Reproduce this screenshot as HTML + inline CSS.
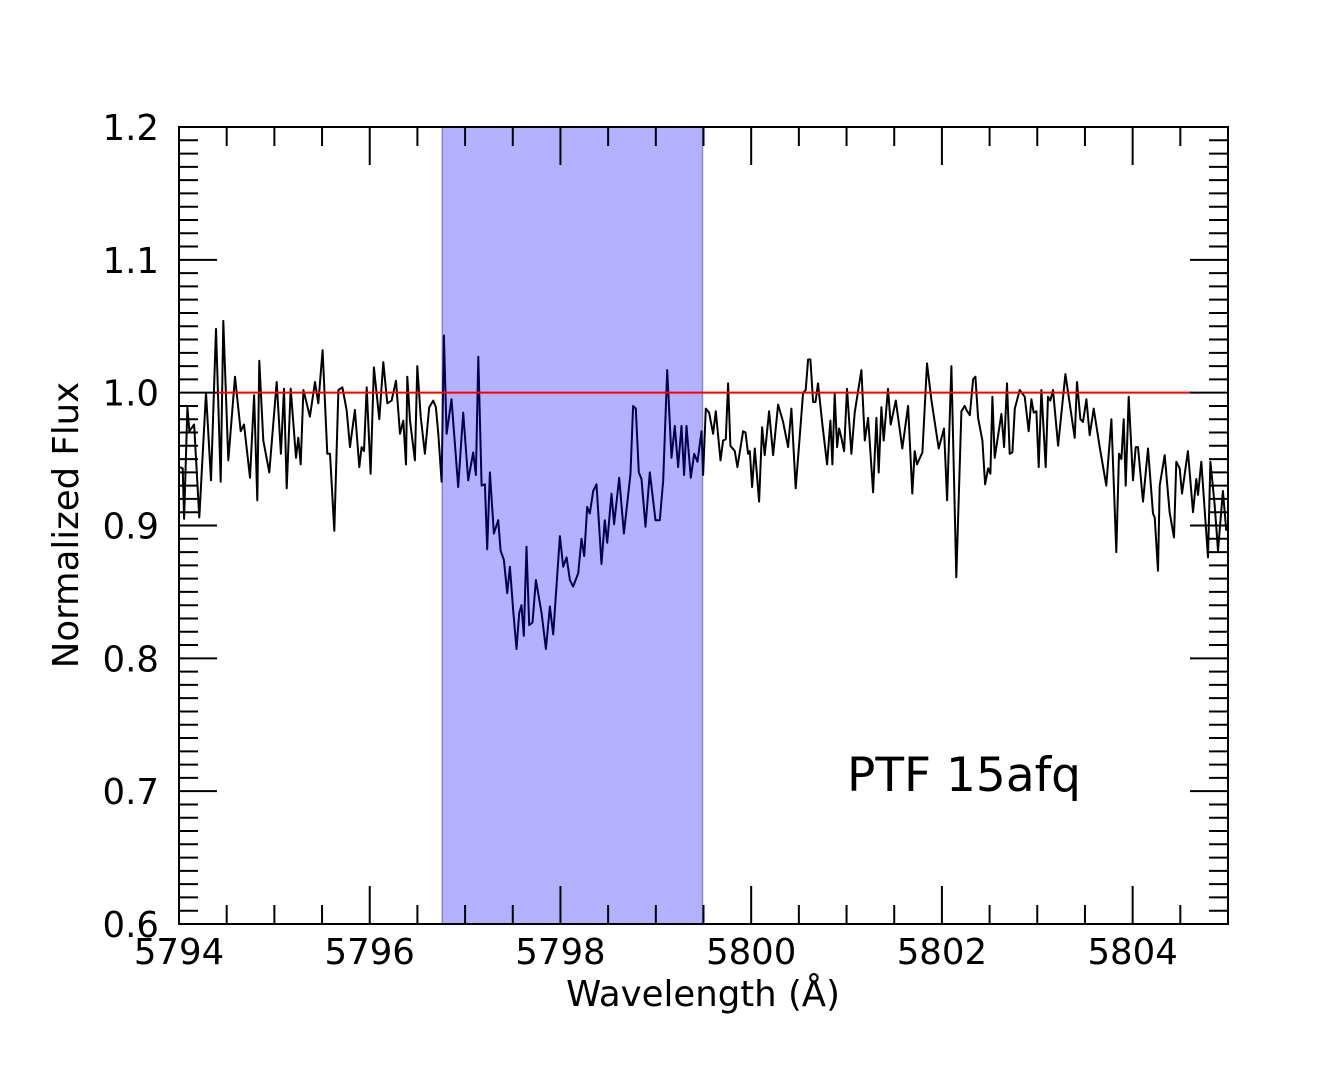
<!DOCTYPE html>
<html><head><meta charset="utf-8"><style>
body{margin:0;background:#fff;}
svg text{font-family:"DejaVu Sans","Liberation Sans",sans-serif;fill:#000;}
</style></head><body>
<svg id="chart" width="1333" height="1066" xmlns="http://www.w3.org/2000/svg">
<rect width="1333" height="1066" fill="#fff"/>
<g id="plot"></g>
<text x="703" y="1006" font-size="35.5" text-anchor="middle">Wavelength (Å)</text>
<text transform="translate(78,525) rotate(-90)" font-size="35.5" text-anchor="middle">Normalized Flux</text>
<text x="847" y="791" font-size="47">PTF 15afq</text>
</svg>
<script>
const waves=[5794.011,5794.039,5794.053,5794.088,5794.109,5794.158,5794.213,5794.283,5794.336,5794.388,5794.437,5794.465,5794.517,5794.587,5794.647,5794.682,5794.745,5794.787,5794.821,5794.842,5794.884,5794.947,5795.024,5795.069,5795.101,5795.129,5795.171,5795.227,5795.251,5795.276,5795.304,5795.373,5795.426,5795.461,5795.506,5795.555,5795.583,5795.629,5795.671,5795.713,5795.758,5795.793,5795.845,5795.891,5795.915,5795.940,5795.968,5796.009,5796.044,5796.100,5796.142,5796.184,5796.229,5796.275,5796.317,5796.352,5796.380,5796.394,5796.422,5796.474,5796.499,5796.534,5796.579,5796.624,5796.666,5796.694,5796.719,5796.754,
5796.778,5796.806,5796.858,5796.928,5796.980,5797.033,5797.085,5797.113,5797.138,5797.173,5797.208,5797.232,5797.260,5797.302,5797.347,5797.372,5797.407,5797.442,5797.470,5797.505,5797.539,5797.567,5797.592,5797.616,5797.644,5797.672,5797.707,5797.742,5797.802,5797.847,5797.889,5797.924,5797.994,5798.029,5798.064,5798.099,5798.133,5798.186,5798.221,5798.249,5798.280,5798.308,5798.343,5798.378,5798.430,5798.465,5798.490,5798.535,5798.563,5798.616,5798.665,5798.734,5798.762,5798.790,5798.822,5798.850,5798.892,5798.937,5798.997,5799.042,5799.077,5799.119,5799.164,5799.199,5799.234,5799.269,5799.297,5799.322,5799.367,5799.402,5799.437,5799.479,5799.496,
5799.524,5799.559,5799.601,5799.629,5799.678,5799.706,5799.734,5799.758,5799.782,5799.828,5799.856,5799.915,5799.940,5799.968,5799.985,5800.010,5800.038,5800.083,5800.114,5800.142,5800.188,5800.230,5800.282,5800.335,5800.387,5800.422,5800.467,5800.502,5800.544,5800.572,5800.597,5800.621,5800.649,5800.674,5800.701,5800.747,5800.796,5800.831,5800.852,5800.876,5800.901,5800.922,5800.946,5800.974,5801.005,5801.051,5801.086,5801.156,5801.191,5801.226,5801.278,5801.313,5801.337,5801.365,5801.390,5801.435,5801.463,5801.516,5801.585,5801.645,5801.690,5801.715,5801.739,5801.795,5801.844,5801.889,5801.966,5802.022,5802.054,5802.099,5802.151,5802.204,5802.239,
5802.257,5802.292,5802.327,5802.351,5802.379,5802.425,5802.453,5802.484,5802.508,5802.529,5802.554,5802.624,5802.652,5802.683,5802.711,5802.739,5802.764,5802.816,5802.868,5802.910,5802.938,5802.963,5802.991,5803.015,5803.043,5803.088,5803.113,5803.137,5803.165,5803.218,5803.295,5803.392,5803.417,5803.452,5803.480,5803.515,5803.550,5803.592,5803.655,5803.724,5803.777,5803.829,5803.857,5803.882,5803.906,5803.927,5803.959,5804.004,5804.032,5804.056,5804.109,5804.161,5804.214,5804.231,5804.266,5804.284,5804.336,5804.388,5804.434,5804.458,5804.493,5804.518,5804.580,5804.633,5804.668,5804.685,5804.720,5804.790,5804.815,5804.860,5804.895,5804.947,5804.982];
const flux=[0.944,0.943,0.905,0.989,0.971,0.976,0.906,1.000,0.934,1.048,0.933,1.054,0.949,1.012,0.971,0.976,0.936,0.998,0.919,1.024,0.964,0.940,1.008,0.954,1.003,0.928,1.003,0.951,0.966,0.946,1.002,0.982,1.008,0.992,1.032,0.954,0.954,0.896,1.002,1.004,0.987,0.959,0.987,0.944,0.959,0.956,1.004,0.939,1.019,0.980,1.023,0.992,0.994,1.009,0.969,0.979,0.946,1.012,0.979,0.949,1.020,0.982,0.954,0.989,0.994,0.989,0.969,0.933,
1.043,0.969,0.995,0.929,0.985,0.934,0.955,0.938,1.027,0.930,0.931,0.882,0.940,0.894,0.904,0.881,0.874,0.849,0.869,0.836,0.807,0.834,0.840,0.817,0.884,0.825,0.827,0.859,0.834,0.807,0.839,0.818,0.892,0.869,0.876,0.859,0.854,0.864,0.890,0.877,0.914,0.909,0.926,0.931,0.871,0.904,0.887,0.924,0.901,0.936,0.894,0.939,0.990,0.988,0.940,0.935,0.899,0.940,0.904,0.904,0.934,1.017,0.951,0.975,0.944,0.975,0.938,0.975,0.936,0.954,0.948,0.971,0.938,
0.988,0.985,0.969,0.986,0.949,0.964,0.965,1.007,0.960,0.956,0.944,0.971,0.970,0.954,0.956,0.929,0.958,0.918,0.974,0.953,0.986,0.953,0.991,0.978,0.959,0.988,0.928,0.961,1.000,1.002,1.025,1.025,0.993,0.993,1.007,0.976,0.946,0.979,0.946,0.999,0.959,0.973,0.966,0.956,1.003,0.954,0.985,1.017,0.964,0.981,0.925,0.981,0.940,0.989,0.964,1.003,0.976,0.994,0.958,0.990,0.924,0.956,0.946,0.955,1.022,0.995,0.958,0.973,0.919,1.020,0.861,0.986,0.990,
0.987,0.983,1.010,1.012,0.981,0.964,0.931,0.943,0.939,0.997,0.951,0.984,0.959,1.007,0.954,0.955,0.988,1.002,0.997,0.971,0.995,0.985,0.986,0.944,1.002,0.944,0.997,0.994,1.002,0.960,1.014,0.966,1.008,0.980,0.978,0.995,0.968,0.988,0.959,0.930,0.980,0.880,0.954,0.950,0.980,0.930,0.997,0.934,0.959,0.959,0.918,0.958,0.909,0.906,0.866,0.930,0.953,0.910,0.891,0.948,0.943,0.924,0.956,0.910,0.935,0.923,0.948,0.876,0.948,0.916,0.881,0.926,0.896];
const xTickLabels=[5794,5796,5798,5800,5802,5804];
const yTickLabels=[0.6,0.7,0.8,0.9,1.0,1.1,1.2];
const band=[5796.76,5799.49];
const continuum=[5794.4,5804.62,1.0];

const L=179,R=1228,T=127,B=924,XMIN=5794,XMAX=5805,YMIN=0.6,YMAX=1.2;
const sx=w=>L+(w-XMIN)/(XMAX-XMIN)*(R-L);
const sy=f=>B-(f-YMIN)/(YMAX-YMIN)*(B-T);
const NS='http://www.w3.org/2000/svg';
const g=document.getElementById('plot');
function mk(tag,attrs){const e=document.createElementNS(NS,tag);for(const k in attrs)e.setAttribute(k,attrs[k]);g.appendChild(e);return e;}

let d='';
for(let i=0;i<waves.length;i++){d+=(i?'L':'M')+sx(waves[i]).toFixed(1)+' '+sy(flux[i]).toFixed(1);}
const line=mk('path',{d:d,fill:'none',stroke:'#000','stroke-width':2,'stroke-linejoin':'round'});



const br=mk('rect',{x:sx(band[0]),y:T,width:sx(band[1])-sx(band[0]),height:B-T,fill:'rgba(0,0,255,0.3)',stroke:'rgba(0,0,120,0.35)','stroke-width':1.5});



const cl=mk('line',{x1:sx(continuum[0]),x2:sx(continuum[1]),y1:sy(continuum[2]),y2:sy(continuum[2]),stroke:'#f00','stroke-width':2});



for(let w=XMIN;w<=XMAX+1e-6;w+=0.5){
  const x=sx(w);const maj=Math.abs((w-XMIN)%2)<1e-6;const len=maj?38:19;
  mk('line',{x1:x,x2:x,y1:B,y2:B-len,stroke:'#000','stroke-width':2});
  mk('line',{x1:x,x2:x,y1:T,y2:T+len,stroke:'#000','stroke-width':2});
}
for(let i=0;i<=60;i++){
  const f=YMIN+i*0.01;const y=sy(f);const maj=i%10===0;const len=maj?38:19;
  mk('line',{x1:L,x2:L+len,y1:y,y2:y,stroke:'#000','stroke-width':2});
  mk('line',{x1:R,x2:R-len,y1:y,y2:y,stroke:'#000','stroke-width':2});
}
const fr=mk('rect',{x:L,y:T,width:R-L,height:B-T,fill:'none',stroke:'#000','stroke-width':2});



xTickLabels.forEach(v=>{
  const t=mk('text',{x:sx(v),y:964,'font-size':35.5,'text-anchor':'middle'});t.textContent=v;
  
  
});
yTickLabels.forEach(v=>{
  const t=mk('text',{x:159,y:sy(v)+13,'font-size':35.5,'text-anchor':'end'});t.textContent=v.toFixed(1);
  
  
});
</script>
</body></html>
